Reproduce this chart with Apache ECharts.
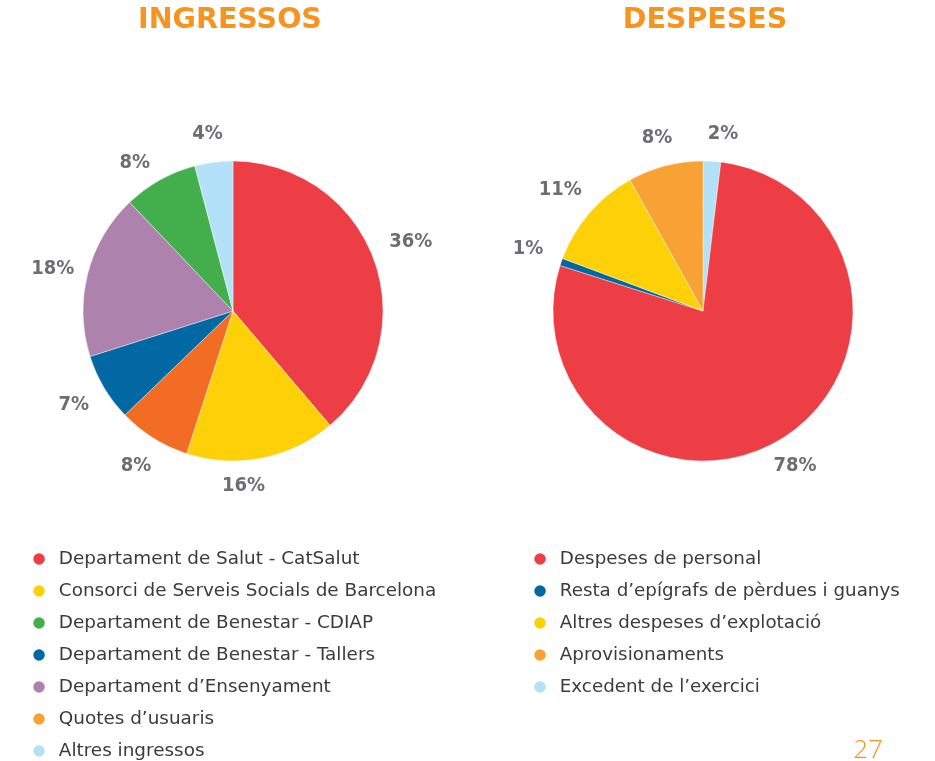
<!DOCTYPE html>
<html>
<head>
<meta charset="utf-8">
<script src="https://cdn.jsdelivr.net/npm/echarts@6/dist/echarts.min.js"></script>
<style>
  html, body { margin: 0; padding: 0; background: #fff; }
  #chart { width: 935px; height: 761px; }
</style>
</head>
<body>
<div id="chart"></div>
<script>
// INGRESSOS, clockwise from the top
const ingressosNoms = [
  "Departament de Salut - CatSalut",
  "Consorci de Serveis Socials de Barcelona",
  "Quotes d’usuaris",
  "Departament de Benestar - Tallers",
  "Departament d’Ensenyament",
  "Departament de Benestar - CDIAP",
  "Altres ingressos"
]
const ingressosValors = [38.8, 16.2, 7.8, 7.3, 17.8, 8.0, 4.1]
const ingressosEtiquetes = ["36%", "16%", "8%", "7%", "18%", "8%", "4%"]
const ingressosLlegenda = [
  "Departament de Salut - CatSalut",
  "Consorci de Serveis Socials de Barcelona",
  "Departament de Benestar - CDIAP",
  "Departament de Benestar - Tallers",
  "Departament d’Ensenyament",
  "Quotes d’usuaris",
  "Altres ingressos"
]

// DESPESES, clockwise from the top
const despesesNoms = [
  "Excedent de l’exercici",
  "Despeses de personal",
  "Resta d’epígrafs de pèrdues i guanys",
  "Altres despeses d’explotació",
  "Aprovisionaments"
]
const despesesValors = [1.9, 78.0, 0.8, 11.2, 8.1]
const despesesEtiquetes = ["2%", "78%", "1%", "11%", "8%"]
const despesesLlegenda = [
  "Despeses de personal",
  "Resta d’epígrafs de pèrdues i guanys",
  "Altres despeses d’explotació",
  "Aprovisionaments",
  "Excedent de l’exercici"
]

// hand nudges of the % labels, like in the original layout
const ingressosAjust = [[6, -6], [-25, -5], [0, 0], [-2, 0], [-3, 3], [-9, 12], [-2, 4]]
const despesesAjust = [[9, 5], [-7, 1], [-2, -2], [-4, -2], [0, 4]]

const colors = {
  "Departament de Salut - CatSalut": "#ee3e45",
  "Consorci de Serveis Socials de Barcelona": "#fdd008",
  "Quotes d’usuaris": "#f26c23",
  "Departament de Benestar - Tallers": "#0168a3",
  "Departament d’Ensenyament": "#ad83ad",
  "Departament de Benestar - CDIAP": "#42ae4c",
  "Altres ingressos": "#b3e1f7",
  "Excedent de l’exercici": "#b3e1f7",
  "Despeses de personal": "#ee3e45",
  "Resta d’epígrafs de pèrdues i guanys": "#0168a3",
  "Altres despeses d’explotació": "#fdd008",
  "Aprovisionaments": "#f8a236"
}
const legendOverride = { "Quotes d’usuaris": "#f8a236" }

const labelFont = "'DejaVu Sans Condensed', sans-serif"
const textFont = "'DejaVu Sans', sans-serif"
const titleFont = "bold 28.5px 'DejaVu Sans', sans-serif"

function pieData(noms, valors) {
  return noms.map((n, i) => ({ name: n, value: valors[i], itemStyle: { color: colors[n] } }))
}

function legendData(noms) {
  return noms.map(n => legendOverride[n] ? { name: n, itemStyle: { color: legendOverride[n] } } : { name: n })
}

function pie(noms, valors, cx) {
  return {
    type: "pie",
    center: [cx, 311],
    radius: [0, 150],
    startAngle: 90,
    clockwise: true,
    silent: true,
    label: { show: false },
    labelLine: { show: false },
    itemStyle: { borderColor: "#fff", borderWidth: 0.4 },
    emphasis: { disabled: true },
    data: pieData(noms, valors)
  }
}

// invisible ring used only to centre the % labels at radius 180
function labelRing(noms, valors, etiquetes, ajust, cx) {
  return {
    type: "pie",
    center: [cx, 311],
    radius: [0, 360],
    startAngle: 90,
    clockwise: true,
    silent: true,
    z: 1,
    itemStyle: { color: "rgba(0,0,0,0)" },
    emphasis: { disabled: true },
    labelLine: { show: false },
    label: {
      show: true,
      position: "inside",
      formatter: p => etiquetes[p.dataIndex],
      color: "#6d6e71",
      fontFamily: labelFont,
      fontWeight: "bold",
      fontSize: 20
    },
    data: noms.map((n, i) => ({ name: "_" + n, value: valors[i], label: { offset: ajust[i] } }))
  }
}

function legend(noms, left, size) {
  return {
    orient: "vertical",
    left: left,
    top: 549,
    padding: 0,
    icon: "circle",
    itemWidth: 29.5,
    itemHeight: 13.5,
    itemGap: 12,
    selectedMode: false,
    textStyle: {
      fontFamily: textFont,
      fontSize: size,
      lineHeight: 20,
      color: "#3b3b3b"
    },
    data: legendData(noms)
  }
}

const chart = echarts.init(document.getElementById("chart"))

chart.setOption({
  animation: false,
  legend: [legend(ingressosLlegenda, 31.3, 18.4), legend(despesesLlegenda, 532.3, 18.3)],
  graphic: [
    { type: "text", x: 230, y: 21, style: { text: "INGRESSOS", align: "center", verticalAlign: "middle", fill: "#f7941f", font: titleFont } },
    { type: "text", x: 705, y: 21, style: { text: "DESPESES", align: "center", verticalAlign: "middle", fill: "#f7941f", font: titleFont } },
    { type: "text", x: 868, y: 751, style: { text: "27", align: "center", verticalAlign: "middle", fill: "#f7941f", font: "300 26px 'Open Sans', sans-serif" } }
  ],
  series: [
    pie(ingressosNoms, ingressosValors, 233),
    pie(despesesNoms, despesesValors, 703),
    labelRing(ingressosNoms, ingressosValors, ingressosEtiquetes, ingressosAjust, 233),
    labelRing(despesesNoms, despesesValors, despesesEtiquetes, despesesAjust, 703)
  ]
})
</script>
</body>
</html>
